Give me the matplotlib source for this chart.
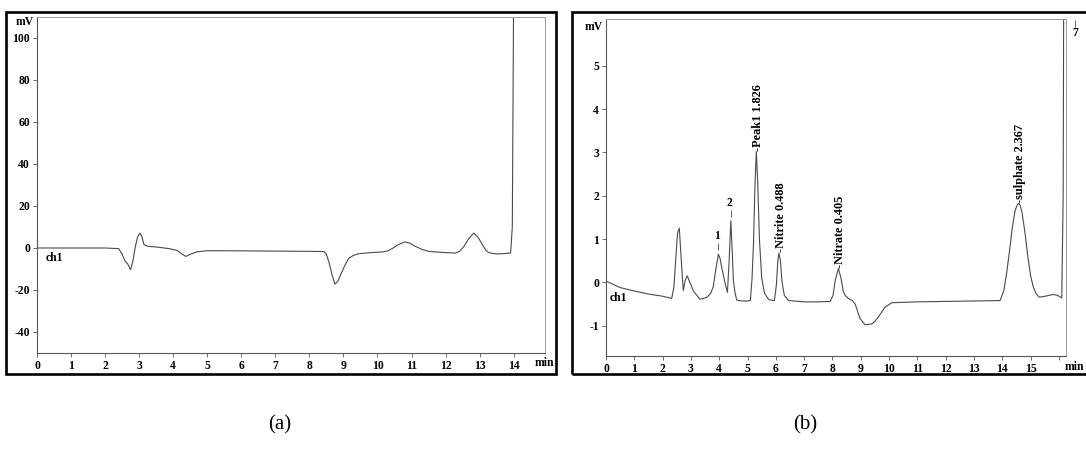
import matplotlib.pyplot as plt
from matplotlib.patches import Rectangle
import numpy as np

# chromatogram (a): blank run, time in min, signal in mV
a_time = [0, 1.0, 2.0, 2.4, 2.5, 2.59, 2.66, 2.75, 2.82, 2.88, 2.95, 3.02, 3.08,
          3.14, 3.25, 3.5, 3.88, 4.12, 4.25, 4.37, 4.5, 4.7, 5.0, 5.5, 6.3, 7.2,
          8.0, 8.43, 8.5, 8.58, 8.67, 8.75, 8.83, 8.92, 9.05, 9.16, 9.3, 9.46,
          9.8, 10.14, 10.3, 10.43, 10.6, 10.8, 10.95, 11.11, 11.3, 11.5, 11.9,
          12.29, 12.42, 12.54, 12.68, 12.83, 12.96, 13.08, 13.18, 13.27, 13.47,
          13.7, 13.91, 13.96, 14.0]
a_mv = [0, 0, 0, -0.3, -3, -6.3, -7.5, -10.3, -6, 0, 5, 7.1, 5.5,
        1.6, 0.8, 0.5, -0.3, -1.2, -2.8, -4.0, -3.0, -1.8, -1.3, -1.3, -1.4, -1.5,
        -1.6, -1.7, -3, -7.1, -13, -17.2, -16, -12.7, -8, -4.8, -3.5, -2.7,
        -2.2, -1.9, -1.4, -0.3, 1.5, 2.9, 2.3, 0.8, -0.6, -1.6, -2.1,
        -2.4, -1.5, 0.8, 4.5, 7.1, 5, 1.6, -1, -2.2, -2.8,
        -2.7, -2.4, 10, 125]

# chromatogram (b): sample run
b_time = [0, 0.5, 1.0, 1.5, 2.0, 2.32, 2.4, 2.47, 2.53, 2.59, 2.65, 2.73, 2.8,
          2.87, 2.95, 3.09, 3.32, 3.56, 3.7, 3.79, 3.88, 3.97, 4.03, 4.09, 4.2,
          4.29, 4.35, 4.41, 4.46, 4.5, 4.56, 4.62, 4.8, 4.97, 5.1, 5.16, 5.21,
          5.26, 5.31, 5.36, 5.42, 5.5, 5.6, 5.75, 5.95, 6.02, 6.07, 6.11, 6.16,
          6.22, 6.3, 6.45, 7.0, 7.5, 7.92, 8.02, 8.1, 8.21, 8.3, 8.38, 8.45,
          8.56, 8.7, 8.8, 8.88, 8.97, 9.15, 9.39, 9.5, 9.62, 9.86, 10.1, 11.0,
          12.0, 13.0, 13.92, 14.05, 14.15, 14.25, 14.35, 14.45, 14.52, 14.57,
          14.63, 14.7, 14.8, 14.9, 15.0, 15.1, 15.2, 15.3, 15.45, 15.65, 15.8,
          15.95, 16.1, 16.15, 16.17]
b_mv = [0.03, -0.12, -0.2, -0.27, -0.32, -0.37, -0.1, 0.6, 1.15, 1.25, 0.6, -0.19, 0.05,
        0.15, 0.02, -0.2, -0.39, -0.35, -0.25, -0.1, 0.3, 0.65, 0.55, 0.34, 0.0,
        -0.23, 0.5, 1.42, 0.7, 0.04, -0.25, -0.41, -0.43, -0.43, -0.42, 0.1, 0.9,
        2.2, 3.02, 2.3, 1.0, 0.1, -0.25, -0.4, -0.42, -0.05, 0.5, 0.68, 0.5,
        0.0, -0.3, -0.42, -0.45, -0.45, -0.44, -0.3, 0.05, 0.32, 0.1, -0.2, -0.3,
        -0.37, -0.42, -0.5, -0.65, -0.83, -0.98, -0.96, -0.9, -0.8, -0.57, -0.47, -0.45,
        -0.44, -0.43, -0.42, -0.2, 0.2, 0.7, 1.25, 1.65, 1.78, 1.82,
        1.78, 1.6, 1.15, 0.6, 0.15, -0.12, -0.27, -0.34, -0.33, -0.3, -0.28,
        -0.3, -0.36, 2.0, 7.0]

# peak labels in (b)
num_labels = ['1', '2']
num_times = [3.97, 4.41]
num_tops = [0.65, 1.42]
name_labels = ['Peak1 1.826', 'Nitrite 0.488', 'Nitrate 0.405', 'sulphate 2.367']
name_times = [5.31, 6.11, 8.21, 14.57]
name_tops = [3.02, 0.68, 0.32, 1.82]

# tick labels
a_xticks = list(range(0, 15))
a_yticks = [-40, -20, 0, 20, 40, 60, 80, 100]
b_xticks = list(range(0, 17))
b_xlabels = [str(i) for i in range(0, 16)] + ['']
b_yticks = [-1, 0, 1, 2, 3, 4, 5]

assert len(a_time) == len(a_mv) and len(b_time) == len(b_mv)

# printout uses plain hyphens for negatives
plt.rcParams['axes.unicode_minus'] = False

W, H = 1086, 462
fig = plt.figure(figsize=(W / 100, H / 100), dpi=100)
fig.patch.set_facecolor('white')

tick_font = dict(family='Liberation Serif', weight='bold', size=8.4)
line_col = '#4a4a4a'


def style_axes(ax):
    # chart recorder look: dark left/bottom axes, faint box top/right
    for side in ['left', 'bottom']:
        ax.spines[side].set_color('#555555')
        ax.spines[side].set_linewidth(0.8)
    for side in ['top', 'right']:
        ax.spines[side].set_color('#9a9a9a')
        ax.spines[side].set_linewidth(0.7)
    ax.tick_params(direction='out', length=3, width=0.6, color='#555555', pad=2)
    for lab in ax.get_xticklabels() + ax.get_yticklabels():
        lab.set_family('Liberation Serif')
        lab.set_weight('bold')
        lab.set_fontsize(8.4)


#########################################################################
# panel (a)
#########################################################################
ax1 = fig.add_axes([37 / W, (H - 353) / H, 508 / W, 336 / H])
ax1.plot(a_time, a_mv, color=line_col, linewidth=0.8)
ax1.set_xlim(0, 14.92)
ax1.set_ylim(-50, 110)
ax1.set_xticks(a_xticks)
ax1.set_yticks(a_yticks)
style_axes(ax1)
ax1.text(-0.006, 0.985, 'mV', transform=ax1.transAxes, ha='right', va='center', **tick_font)
ax1.text(14.62, -0.03, 'min', transform=ax1.get_xaxis_transform(), ha='left', va='center', **tick_font)
ax1.text(0.25, -4.6, 'ch1', ha='left', va='center', **tick_font)

#########################################################################
# panel (b)
#########################################################################
ax2 = fig.add_axes([606 / W, (H - 356) / H, 460 / W, 337 / H])
ax2.plot(b_time, b_mv, color=line_col, linewidth=0.8)
ax2.set_xlim(0, 16.25)
ax2.set_ylim(-1.7, 6.08)
ax2.set_xticks(b_xticks)
ax2.set_xticklabels(b_xlabels)
ax2.set_yticks(b_yticks)
style_axes(ax2)
ax2.text(-0.006, 0.976, 'mV', transform=ax2.transAxes, ha='right', va='center', **tick_font)
ax2.text(16.2, -0.033, 'min', transform=ax2.get_xaxis_transform(), ha='left', va='center',
         clip_on=False, **tick_font)
ax2.text(0.12, -0.36, 'ch1', ha='left', va='center', **tick_font)

# small numbered peaks
for lab, t, top in zip(num_labels, num_times, num_tops):
    ax2.vlines(t, top + 0.1, top + 0.25, color=line_col, linewidth=0.6)
    ax2.text(t - 0.05, top + 0.28, lab, ha='center', va='bottom', **tick_font)

# named peaks, rotated like the integrator printout
for lab, t, top in zip(name_labels, name_times, name_tops):
    ax2.text(t + 0.06, top + 0.02, '-' + lab, rotation=90, ha='center', va='bottom',
             family='Liberation Serif', weight='bold', size=8.8)

# off-scale peak 7 at the end
ax2.vlines(16.57, 5.9, 6.05, color=line_col, linewidth=0.6, clip_on=False)
ax2.text(16.57, 5.75, '7', ha='center', va='center', clip_on=False, **tick_font)

# black frames round each chromatogram
fig.add_artist(Rectangle((6 / W, (H - 374) / H), 550 / W, 362 / H, transform=fig.transFigure,
                         fill=False, edgecolor='black', linewidth=1.9))
fig.add_artist(Rectangle((572 / W, (H - 374) / H), 530 / W, 362 / H, transform=fig.transFigure,
                         fill=False, edgecolor='black', linewidth=1.9))

# panel captions
fig.text(280 / W, 1 - 425 / H, '(a)', ha='center', va='center', family='Liberation Serif', fontsize=15)
fig.text(805 / W, 1 - 425 / H, '(b)', ha='center', va='center', family='Liberation Serif', fontsize=15)

plt.savefig('out.png', dpi=100)
